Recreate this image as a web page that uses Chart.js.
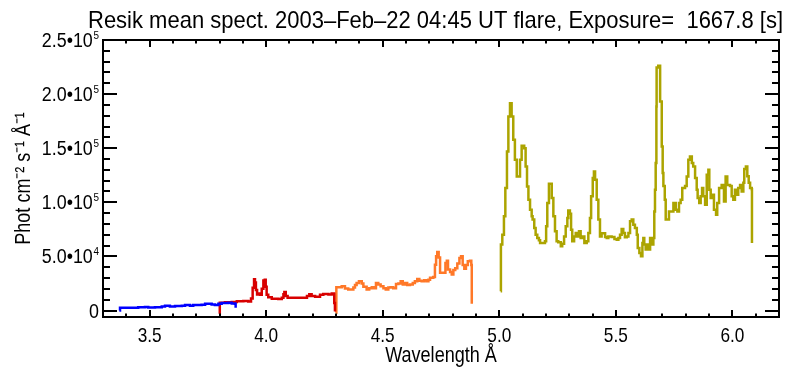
<!DOCTYPE html>
<html><head><meta charset="utf-8">
<script src="https://cdn.jsdelivr.net/npm/chart.js@4.4.1/dist/chart.umd.min.js"></script>
<style>html,body{margin:0;padding:0;background:#fff}#wrap{width:807px;height:372px}</style>
</head><body><div id="wrap"><canvas id="c" width="807" height="372"></canvas></div>
<script>
const titleText = "Resik mean spect. 2003\u2013Feb\u201322 04:45 UT flare, Exposure=  1667.8 [s]";
const xTitle = "Wavelength \u00C5";
const yTitle = "Phot cm\u207B\u00B2 s\u207B\u00B9 \u00C5\u207B\u00B9";
const xTickValues = [3.5, 4.0, 4.5, 5.0, 5.5, 6.0];
const xTickLabels = ["3.5", "4.0", "4.5", "5.0", "5.5", "6.0"];
const yTickValues = [0, 50000, 100000, 150000, 200000, 250000];
const yTickMantissa = ["0", "5.0\u202210", "1.0\u202210", "1.5\u202210", "2.0\u202210", "2.5\u202210"];
const yTickExponent = ["", "4", "5", "5", "5", "5"];

// Channel 1 (blue)
const blueWave = [3.370,3.373,3.394,3.423,3.451,3.480,3.494,3.523,3.552,3.566,3.587,3.609,3.638,3.652,3.673,3.687,3.723,3.738,3.766,3.780,3.795,3.809,3.838,3.852,3.866,3.869];
const blueFlux = [0,2500,2600,2500,3000,3200,2700,3100,3600,4300,3600,4100,4400,5000,4300,5200,5400,6200,5600,5000,6200,7000,7200,6500,6200,2500];
// Channel 2 (red)
const redWave = [3.799,3.801,3.823,3.852,3.874,3.902,3.923,3.935,3.942,3.948,3.952,3.956,3.961,3.966,3.974,3.981,3.988,3.994,3.998,4.002,4.009,4.024,4.052,4.067,4.074,4.078,4.084,4.092,4.167,4.175,4.185,4.195,4.210,4.231,4.245,4.267,4.281,4.290,4.292,4.295];
const redFlux = [-3000,7100,7700,7900,8600,8800,8400,11000,21000,29000,26000,19000,14800,15800,14500,20000,27800,28500,22000,14500,12200,10800,10600,11800,15000,17000,13500,11700,11900,13500,15000,13500,12700,14600,15200,14700,15800,15500,7000,-1000];
// Channel 3 (orange)
const orangeWave = [4.300,4.301,4.324,4.338,4.352,4.374,4.381,4.388,4.398,4.410,4.417,4.431,4.442,4.453,4.463,4.471,4.481,4.491,4.503,4.513,4.524,4.534,4.545,4.557,4.567,4.577,4.586,4.596,4.605,4.617,4.629,4.638,4.648,4.657,4.667,4.678,4.689,4.696,4.703,4.717,4.724,4.729,4.734,4.740,4.746,4.760,4.769,4.775,4.780,4.789,4.796,4.803,4.811,4.820,4.829,4.836,4.843,4.850,4.857,4.865,4.874,4.880,4.882];
const orangeFlux = [-2000,21500,22400,20300,19400,21200,23500,25500,27000,25000,22000,19400,20500,21500,20500,25500,24000,22500,20500,19400,21200,21500,20500,24500,25000,27000,24000,25500,23500,24000,25500,27000,29200,27500,27000,28000,27000,28500,30200,31000,42400,50100,54100,49000,34800,35000,44000,46100,38000,35500,33200,37500,39000,43500,48600,50100,42000,38700,42000,45500,46000,42000,6200];
// Channel 4 (olive)
const oliveWave = [5.006,5.007,5.013,5.020,5.026,5.033,5.039,5.046,5.053,5.060,5.067,5.075,5.089,5.096,5.107,5.113,5.119,5.125,5.132,5.139,5.143,5.150,5.156,5.163,5.170,5.175,5.196,5.201,5.206,5.213,5.225,5.232,5.239,5.246,5.253,5.264,5.270,5.278,5.285,5.292,5.296,5.303,5.308,5.313,5.321,5.328,5.335,5.342,5.349,5.356,5.365,5.375,5.382,5.389,5.394,5.401,5.406,5.411,5.418,5.425,5.432,5.439,5.454,5.461,5.468,5.482,5.494,5.504,5.511,5.518,5.525,5.532,5.539,5.547,5.554,5.561,5.568,5.575,5.582,5.590,5.594,5.601,5.608,5.614,5.618,5.622,5.628,5.634,5.639,5.647,5.654,5.661,5.665,5.668,5.671,5.674,5.675,5.682,5.690,5.697,5.701,5.704,5.710,5.714,5.728,5.747,5.757,5.764,5.771,5.778,5.785,5.797,5.804,5.811,5.818,5.826,5.832,5.840,5.847,5.851,5.858,5.864,5.870,5.875,5.883,5.890,5.897,5.901,5.907,5.914,5.921,5.930,5.935,5.943,5.954,5.964,5.971,5.978,5.990,5.997,6.004,6.011,6.019,6.025,6.033,6.040,6.047,6.051,6.058,6.064,6.070,6.076,6.083,6.084];
const oliveFlux = [17800,60900,70100,87000,113200,147000,179200,191600,179200,157700,139300,123900,139300,152200,150000,133100,114700,102400,93200,87000,84000,76300,70100,67100,64900,62400,64000,77900,99300,117200,104000,87000,73200,64000,63000,59300,61800,68500,77900,85500,92500,89500,74700,64000,68500,71700,68500,73200,67100,68500,62400,64000,71700,85500,105500,122400,128500,120800,102400,84000,68500,71500,68000,67100,68500,68000,66100,65500,67100,70100,75400,71700,67800,68500,71700,82400,84000,79300,76300,70100,57800,53200,50100,62400,67100,61000,56300,61000,56300,67100,61000,67100,91600,111600,136300,188500,224500,226300,193100,151600,127000,115000,102400,84000,91600,99300,93200,91600,99300,102400,113200,115000,123900,139300,142300,136300,133100,122400,111600,104000,99300,105500,113200,105500,97800,125500,130000,111600,104000,107000,93200,88600,99300,113200,116000,100800,123900,116000,115000,105500,102400,111600,107000,113200,116000,110000,118000,130700,133100,124000,118000,113200,112000,62400];

const FONT = '"Liberation Sans", Arial, Helvetica, sans-serif';
const SQ = 0.82; // horizontal condensing to mimic a narrow Helvetica

function pts(w, f) { return w.map((x, i) => ({x: x, y: f[i]})); }
function ds(w, f, color) {
  return { data: pts(w, f), borderColor: color, borderWidth: 2.5, pointRadius: 0, fill: false, stepped: true, tension: 0 };
}
function condText(ctx, text, x, y, size, align, sq, rot) {
  ctx.save();
  ctx.font = size + 'px ' + FONT;
  ctx.fillStyle = '#000';
  ctx.textBaseline = 'alphabetic';
  ctx.translate(x, y);
  if (rot) ctx.rotate(rot);
  ctx.scale(sq, 1);
  ctx.textAlign = align;
  ctx.fillText(text, 0, 0);
  ctx.restore();
}
function textWidth(ctx, text, size) {
  ctx.save(); ctx.font = size + 'px ' + FONT; const w = ctx.measureText(text).width; ctx.restore(); return w;
}

const textPlugin = {
  id: 'idlText',
  afterDraw(chart) {
    const ctx = chart.ctx;
    const a = chart.chartArea;
    const xs = chart.scales.x, ys = chart.scales.y;
    const tw = textWidth(ctx, titleText, 24);
    condText(ctx, titleText, 435.5, 28, 24, 'center', 695 / tw, 0);
    xTickValues.forEach((v, i) => {
      condText(ctx, xTickLabels[i], xs.getPixelForValue(v), a.bottom + 25, 21, 'center', SQ, 0);
    });
    condText(ctx, xTitle, (a.left + a.right) / 2, a.bottom + 45, 22, 'center', SQ, 0);
    const mSize = 20, eSize = 11;
    const mSq = 51 / textWidth(ctx, yTickMantissa[5], mSize);
    yTickValues.forEach((v, i) => {
      const py = ys.getPixelForValue(v);
      const right = a.left - 4;
      const ex = yTickExponent[i];
      const ew = ex ? textWidth(ctx, ex, eSize) * 0.9 : 0;
      if (ex) condText(ctx, ex, right - ew, py - 1.5, eSize, 'left', 0.9, 0);
      condText(ctx, yTickMantissa[i], right - ew - (ex ? 0.7 : 0), py + 7, mSize, 'right', mSq, 0);
    });
    condText(ctx, yTitle, 30, (a.top + a.bottom) / 2, 22, 'center', SQ, -Math.PI / 2);
  }
};

const framePlugin = {
  id: 'idlFrame',
  afterDatasetsDraw(chart) {
    const ctx = chart.ctx;
    const a = chart.chartArea;
    const xs = chart.scales.x, ys = chart.scales.y;
    ctx.save();
    ctx.strokeStyle = '#000';
    ctx.lineWidth = 2;
    ctx.strokeRect(a.left, a.top, a.right - a.left, a.bottom - a.top);
    ctx.beginPath();
    for (let k = 33; k <= 62; k++) {
      const px = Math.round(xs.getPixelForValue(k / 10));
      const len = (k % 5 === 0) ? 7 : 3.5;
      ctx.moveTo(px, a.bottom); ctx.lineTo(px, a.bottom - len);
      ctx.moveTo(px, a.top); ctx.lineTo(px, a.top + len);
    }
    for (let k = 0; k <= 25; k++) {
      const py = Math.round(ys.getPixelForValue(k * 10000));
      const len = (k % 5 === 0) ? 14 : 7;
      ctx.moveTo(a.left, py); ctx.lineTo(a.left + len, py);
      ctx.moveTo(a.right, py); ctx.lineTo(a.right - len, py);
    }
    ctx.stroke();
    ctx.restore();
  }
};

new Chart(document.getElementById('c'), {
  type: 'line',
  data: { datasets: [
      ds(blueWave, blueFlux, '#0000ff'),
      ds(redWave, redFlux, '#d80000'),
      ds(orangeWave, orangeFlux, '#ff7828'),
      ds(oliveWave, oliveFlux, '#aca400') ] },
  options: {
    responsive: false, devicePixelRatio: 1, animation: false,
    layout: { padding: { left: 0, right: 28, top: 40, bottom: 0 } },
    plugins: { legend: { display: false }, tooltip: { enabled: false }, title: { display: false } },
    scales: {
      x: { type: 'linear', min: 3.3, max: 6.2,
        afterBuildTicks(s) { s.ticks = xTickValues.map(v => ({ value: v })); },
        afterFit(s) { s.height = 55; },
        grid: { display: false, drawTicks: false }, border: { display: false },
        ticks: { display: false }, title: { display: false, text: xTitle } },
      y: { type: 'linear', min: -6000, max: 250000,
        afterBuildTicks(s) { s.ticks = yTickValues.map(v => ({ value: v })); },
        afterFit(s) { s.width = 103; },
        grid: { display: false, drawTicks: false }, border: { display: false },
        ticks: { display: false }, title: { display: false, text: yTitle } }
    }
  },
  plugins: [textPlugin, framePlugin]
});
</script>
</body></html>
